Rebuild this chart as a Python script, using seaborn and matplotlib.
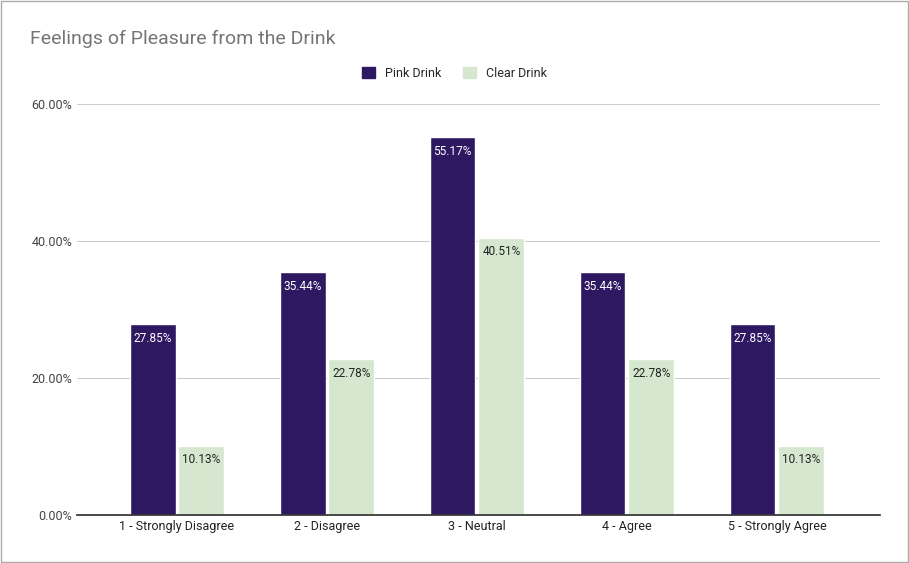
import matplotlib
matplotlib.use("Agg")
import matplotlib.pyplot as plt
import seaborn as sns
import pandas as pd
from matplotlib.patches import Rectangle

categories = ["1 - Strongly Disagree", "2 - Disagree", "3 - Neutral", "4 - Agree", "5 - Strongly Agree"]
pink = [27.85, 35.44, 55.17, 35.44, 27.85]
clear = [10.13, 22.78, 40.51, 22.78, 10.13]
series = ["Pink Drink", "Clear Drink"]
colors = ["#2f1862", "#d5e8cf"]

df = pd.DataFrame({
    "cat": categories * 2,
    "val": pink + clear,
    "series": [series[0]] * 5 + [series[1]] * 5,
})

sns.set_theme(style="white")
plt.rcParams['font.family'] = ['Roboto', 'DejaVu Sans']

fig = plt.figure(figsize=(9.09, 5.63), dpi=100)
ax = fig.add_axes([0.0847, 0.0853, 0.8833, 0.7297])
sns.barplot(data=df, x="cat", y="val", hue="series", palette=colors,
            width=0.65, gap=0.06, ax=ax, legend=False, saturation=1)

for i, cont in enumerate(ax.containers):
    labels = ["%.2f%%" % b.get_height() for b in cont]
    ax.bar_label(cont, labels=labels, label_type="edge", padding=-15,
                 fontsize=8.5, color="white" if i == 0 else "#222222")

ax.set_xlim(-0.667, 4.687)
ax.set_ylim(0, 60)
ax.set_yticks([0, 20, 40, 60])
ax.set_yticklabels(["0.00%", "20.00%", "40.00%", "60.00%"], fontsize=9, color="#444444")
ax.tick_params(axis="x", labelsize=9, colors="#222222", length=0)
ax.tick_params(axis="y", length=0)
ax.yaxis.grid(True, color="#cccccc", linewidth=0.8)
ax.set_axisbelow(True)
for s in ["top", "right", "left"]:
    ax.spines[s].set_visible(False)
ax.spines["bottom"].set_color("#333333")
ax.set_xlabel("")
ax.set_ylabel("")

fig.text(0.033, 0.93, "Feelings of Pleasure from the Drink", fontsize=14, color="#757575", va="center")

handles = [Rectangle((0, 0), 1, 1, color=c) for c in colors]
fig.legend(handles, series, loc="center", bbox_to_anchor=(0.5, 0.87), ncol=2,
           frameon=False, fontsize=9, handlelength=1.0, handleheight=1.0, columnspacing=1.8)

fig.patches.append(Rectangle((0.001, 0.001), 0.998, 0.998, transform=fig.transFigure,
                             fill=False, edgecolor="#aaaaaa", linewidth=1))
fig.savefig("out.png", dpi=100)
